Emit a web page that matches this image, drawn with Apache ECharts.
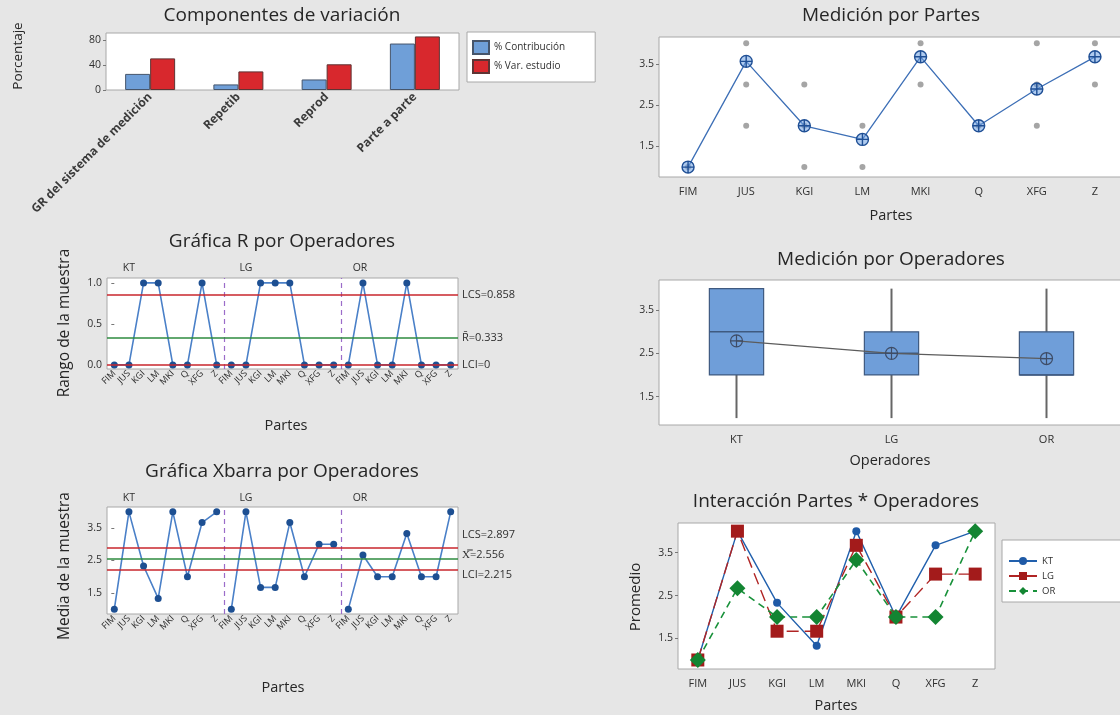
<!DOCTYPE html>
<html><head><meta charset="utf-8">
<script src="https://cdn.jsdelivr.net/npm/echarts@6/dist/echarts.min.js"></script>
<style>html,body{margin:0;padding:0;background:#e6e6e6}#c{width:1120px;height:715px}</style>
</head><body><div id="c"></div>
<script>
// ---------- data ----------
const parts = ['FIM','JUS','KGI','LM','MKI','Q','XFG','Z'];
const operators = ['KT','LG','OR'];
const componentCats = ['GR del sistema de medición','Repetib','Reprod','Parte a parte'];
const pctContribution = [26, 9, 17, 75];
const pctStudyVar = [51, 30, 41.5, 86.5];
const percentTicks = [0, 40, 80];

const rangeKT = [0,0,1,1,0,0,1,0];
const rangeLG = [0,0,1,1,1,0,0,0];
const rangeOR = [0,1,0,0,1,0,0,0];
const rangeLCS = 0.858, rangeCenter = 0.333, rangeLCI = 0;
const rangeTicks = [0, 0.5, 1.0];

const xbarKT = [1, 4, 2.33, 1.33, 4, 2, 3.67, 4];
const xbarLG = [1, 4, 1.67, 1.67, 3.67, 2, 3, 3];
const xbarOR = [1, 2.67, 2, 2, 3.33, 2, 2, 4];
const xbarLCS = 2.897, xbarCenter = 2.556, xbarLCI = 2.215;
const measureTicks = [1.5, 2.5, 3.5];

const partMeans = [1, 3.56, 2, 1.67, 3.67, 2, 2.89, 3.67];
const partReadings = [[1],[2,3,4],[1,2,3],[1,2],[3,4],[2],[2,3,4],[3,4]];

// [min, Q1, median, Q3, max]
const boxKT = [1, 2, 3, 4, 4];
const boxLG = [1, 2, 2.5, 3, 4];
const boxOR = [1, 2, 2, 3, 4];
const operatorMeans = [2.79, 2.5, 2.38];

// ---------- helpers ----------
const FONT = 'Open Sans';
const TXT = '#303030';
const ctrlCats = operators.flatMap(() => parts);
const opLabelPos = [1, 9, 16.8];
const oplus = 'path://M12,2A10,10,0,1,1,12,22A10,10,0,1,1,12,2ZM2,12L22,12M12,2L12,22';

function gridBox(o){ return Object.assign({show:true, backgroundColor:'#ffffff', borderColor:'#a8a8a8', borderWidth:1, containLabel:false, outerBoundsMode:'none'}, o); }
function valAxis(grid, min, max, ticks, fmt){
  return {gridIndex:grid, type:'value', min:min, max:max,
    axisLine:{show:false}, splitLine:{show:false},
    axisTick:{show:true, length:3, customValues:ticks, lineStyle:{color:'#777'}},
    axisLabel:{customValues:ticks, fontSize:10.5, color:TXT, fontFamily:FONT, margin:5, formatter:fmt}};
}
function catAxis(grid, data, extra){
  return Object.assign({gridIndex:grid, type:'category', data:data,
    axisLine:{show:false}, axisTick:{show:false}, splitLine:{show:false},
    axisLabel:{interval:0, fontSize:11, color:TXT, fontFamily:FONT, margin:9}}, extra||{});
}
function opTopAxis(grid, margin){
  return {gridIndex:grid, type:'value', position:'top', min:-0.5, max:23.5,
    axisLine:{show:false}, axisTick:{show:false}, splitLine:{show:false},
    axisLabel:{customValues:opLabelPos, formatter:v => operators[opLabelPos.indexOf(v)], fontSize:10.5, color:TXT, fontFamily:FONT, margin:margin}};
}
function ctrlSeries(name, vals, opIdx, xi, yi){
  return {type:'line', name:name, xAxisIndex:xi, yAxisIndex:yi, z:4,
    data: vals.map((v,j) => [opIdx*parts.length + j, v]),
    symbol:'circle', symbolSize:7,
    lineStyle:{color:'#4a80c8', width:1.6},
    itemStyle:{color:'#1d4f92'}};
}
function limitLine(val, color, label){
  return {yAxis:val, lineStyle:{color:color, width:1.5, type:'solid'},
    label: label ? {show:true, position:'end', formatter:label, color:TXT, fontSize:11, fontFamily:FONT, distance:4} : {show:false}};
}
const divider = v => ({xAxis:v, lineStyle:{color:'#9b6cc9', width:1.2, type:[5,4]}, label:{show:false}});
function text(x, y, s, size, rot, extra){
  return Object.assign({type:'text', x:x, y:y, rotation:rot||0, silent:true,
    style:{text:s, fontSize:size, fontFamily:FONT, fill:'#262626', align:'center', verticalAlign:'middle'}}, extra||{});
}
const ctrlLabel = {interval:0, rotate:45, fontSize:9, color:'#2a2a2a', fontFamily:FONT, margin:3};

const chart = echarts.init(document.getElementById('c'));
chart.setOption({
  animation:false,
  backgroundColor:'#e6e6e6',
  textStyle:{fontFamily:FONT},
  grid:[
    gridBox({left:106, top:33, width:353, height:57}),
    gridBox({left:107, top:278, width:351, height:91}),
    gridBox({left:107, top:507, width:351, height:107}),
    gridBox({left:659, top:37, width:465, height:140}),
    gridBox({left:659, top:280, width:465, height:145}),
    gridBox({left:678, top:523, width:317, height:146})
  ],
  xAxis:[
    catAxis(0, componentCats, {axisLabel:{interval:0, rotate:45, fontSize:12, fontWeight:'bold', color:'#3a3a3a', fontFamily:FONT, margin:5}}),
    catAxis(1, ctrlCats, {axisLabel:ctrlLabel}),
    opTopAxis(1, 4),
    catAxis(2, ctrlCats, {axisLabel:ctrlLabel}),
    opTopAxis(2, 3),
    catAxis(3, parts),
    catAxis(4, operators),
    catAxis(5, parts)
  ],
  yAxis:[
    valAxis(0, 0, 92, percentTicks),
    valAxis(1, -0.05, 1.06, rangeTicks, v => v.toFixed(1)),
    valAxis(2, 0.85, 4.15, measureTicks, v => v.toFixed(1)),
    valAxis(3, 0.76, 4.15, measureTicks, v => v.toFixed(1)),
    valAxis(4, 0.84, 4.2, measureTicks, v => v.toFixed(1)),
    valAxis(5, 0.79, 4.19, measureTicks, v => v.toFixed(1))
  ],
  legend:[
    {data:['% Contribución','% Var. estudio'], orient:'vertical', left:467, top:32, icon:'rect',
     itemWidth:16, itemHeight:13, itemGap:4, padding:[8,30,8,5],
     backgroundColor:'#fff', borderColor:'#a8a8a8', borderWidth:1,
     textStyle:{fontSize:10, color:TXT, fontFamily:FONT}},
    {data:['KT','LG','OR'], orient:'vertical', left:1002, top:540,
     itemWidth:28, itemHeight:10, itemGap:5, padding:[16,80,6,6],
     backgroundColor:'#fff', borderColor:'#a8a8a8', borderWidth:1,
     textStyle:{fontSize:9.5, color:TXT, fontFamily:FONT}}
  ],
  series:[
    // Componentes de variación
    {type:'bar', name:'% Contribución', xAxisIndex:0, yAxisIndex:0, data:pctContribution,
     barWidth:25, barGap:'0%', itemStyle:{color:'#6f9fd8', borderColor:'#46556b', borderWidth:1}},
    {type:'bar', name:'% Var. estudio', xAxisIndex:0, yAxisIndex:0, data:pctStudyVar,
     barWidth:25, barGap:'0%', itemStyle:{color:'#d8282d', borderColor:'#5e3434', borderWidth:1}},

    // R chart limits and dividers
    {type:'line', name:'limR', xAxisIndex:2, yAxisIndex:1, data:[], z:1,
     markLine:{silent:true, symbol:'none', animation:false, data:[
       divider(7.5), divider(15.5),
       limitLine(rangeLCS, '#c8262c', 'LCS=' + rangeLCS),
       limitLine(rangeCenter, '#2e8b3f', 'R\u0304=' + rangeCenter),
       limitLine(rangeLCI, '#c8262c', 'LCI=' + rangeLCI)
     ]}},
    ctrlSeries('R KT', rangeKT, 0, 1, 1),
    ctrlSeries('R LG', rangeLG, 1, 1, 1),
    ctrlSeries('R OR', rangeOR, 2, 1, 1),

    // Xbar chart
    {type:'line', name:'limX', xAxisIndex:4, yAxisIndex:2, data:[], z:1,
     markLine:{silent:true, symbol:'none', animation:false, data:[
       divider(7.5), divider(15.5),
       limitLine(xbarLCS, '#c8262c'),
       limitLine(xbarCenter, '#2e8b3f'),
       limitLine(xbarLCI, '#c8262c')
     ]}},
    ctrlSeries('X KT', xbarKT, 0, 3, 2),
    ctrlSeries('X LG', xbarLG, 1, 3, 2),
    ctrlSeries('X OR', xbarOR, 2, 3, 2),

    // Medición por Partes
    {type:'scatter', name:'lecturas', xAxisIndex:5, yAxisIndex:3, z:2,
     data: partReadings.flatMap((arr,i) => arr.map(v => [i, v])),
     symbolSize:6, itemStyle:{color:'#8e8e8e'}},
    {type:'line', name:'media parte', xAxisIndex:5, yAxisIndex:3, z:3, data:partMeans,
     symbol:oplus, symbolSize:12,
     lineStyle:{color:'#3d6fb6', width:1.3},
     itemStyle:{color:'rgba(110,160,225,0.55)', borderColor:'#1f4f95', borderWidth:1.4}},

    // Medición por Operadores
    {type:'custom', name:'caja', xAxisIndex:6, yAxisIndex:4, z:2,
     data:[[0].concat(boxKT), [1].concat(boxLG), [2].concat(boxOR)],
     encode:{x:0, y:[1,2,3,4,5]},
     renderItem:function(params, api){
       const x = api.value(0);
       const pMin = api.coord([x, api.value(1)]);
       const pQ1 = api.coord([x, api.value(2)]);
       const pMed = api.coord([x, api.value(3)]);
       const pQ3 = api.coord([x, api.value(4)]);
       const pMax = api.coord([x, api.value(5)]);
       const w = api.size([1, 0])[0] * 0.35;
       return {type:'group', children:[
         {type:'line', shape:{x1:pMin[0], y1:pMin[1], x2:pMax[0], y2:pMax[1]}, style:{stroke:'#666666', lineWidth:2}},
         {type:'rect', shape:{x:pQ1[0]-w/2, y:pQ3[1], width:w, height:pQ1[1]-pQ3[1]}, style:{fill:'#6f9ed9', stroke:'#3f5a80', lineWidth:1.2}},
         {type:'line', shape:{x1:pMed[0]-w/2, y1:pMed[1], x2:pMed[0]+w/2, y2:pMed[1]}, style:{stroke:'#3f5a80', lineWidth:1.5}}
       ]};
     }},
    {type:'line', name:'media operador', xAxisIndex:6, yAxisIndex:4, z:4, data:operatorMeans,
     symbol:oplus, symbolSize:12,
     lineStyle:{color:'#5c5c5c', width:1.2},
     itemStyle:{color:'rgba(0,0,0,0)', borderColor:'#3e4c66', borderWidth:1.2}},

    // Interacción
    {type:'line', name:'KT', xAxisIndex:7, yAxisIndex:5, z:3, data:xbarKT,
     symbol:'circle', symbolSize:8, lineStyle:{color:'#2160ad', width:1.4},
     itemStyle:{color:'#1f5aa6'}},
    {type:'line', name:'LG', xAxisIndex:7, yAxisIndex:5, z:4, data:xbarLG,
     symbol:'rect', symbolSize:13, lineStyle:{color:'#b02424', width:1.4, type:[12,6]},
     itemStyle:{color:'#a31b1b'}},
    {type:'line', name:'OR', xAxisIndex:7, yAxisIndex:5, z:5, data:xbarOR,
     symbol:'diamond', symbolSize:16, lineStyle:{color:'#18913a', width:1.6, type:[7,5]},
     itemStyle:{color:'#138532'}}
  ]
});

// Xbar limit labels: placed from the axis scale, spread apart as in the original
const yX = v => chart.convertToPixel({yAxisIndex:2}, v);
const limLabel = (y, s) => ({type:'text', x:462, y:y, silent:true,
  style:{text:s, fontSize:11, fontFamily:FONT, fill:TXT, align:'left', verticalAlign:'middle'}});

chart.setOption({
  graphic:[
    text(282, 16, 'Componentes de variación', 19),
    text(282, 242, 'Gráfica R por Operadores', 19),
    text(282, 472, 'Gráfica Xbarra por Operadores', 19),
    text(891, 16, 'Medición por Partes', 19),
    text(891, 260, 'Medición por Operadores', 19),
    text(836, 502, 'Interacción Partes * Operadores', 19),
    text(18, 56, 'Porcentaje', 13.5, Math.PI/2),
    text(65, 323, 'Rango de la muestra', 15.5, Math.PI/2),
    text(65, 566, 'Media de la muestra', 15.5, Math.PI/2),
    text(636, 597, 'Promedio', 15, Math.PI/2),
    text(286, 426, 'Partes', 14.5),
    text(283, 688, 'Partes', 14.5),
    text(891, 216, 'Partes', 14.5),
    text(890, 461, 'Operadores', 14.5),
    text(836, 706, 'Partes', 14.5),
    {type:'text', x:1024, y:549, silent:true, style:{text:'Operadores', fontSize:9.5, fontFamily:FONT, fill:TXT, align:'left', verticalAlign:'middle'}},
    limLabel(yX(xbarLCS) - 13, 'LCS=' + xbarLCS),
    limLabel(yX(xbarCenter) - 4, 'X\u033F=' + xbarCenter),
    limLabel(yX(xbarLCI) + 5, 'LCI=' + xbarLCI)
  ]
});
</script>
</body></html>
